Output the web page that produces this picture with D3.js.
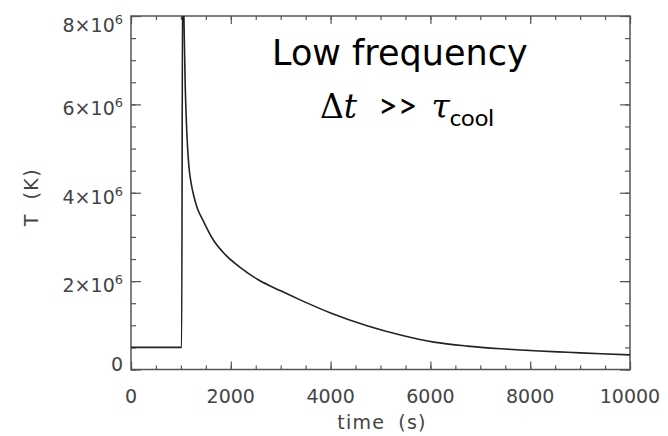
<!DOCTYPE html>
<html>
<head>
<meta charset="utf-8">
<script src="https://cdn.jsdelivr.net/npm/d3@7/dist/d3.min.js"></script>
<style>
    body { margin: 0; background: #fff; }
    text { font-family: "DejaVu Sans", sans-serif; }
</style>
</head>
<body>
<svg id="chart" width="668" height="436"></svg>
<script>
// temperature curve (time in s, T in K)
var time_s = [0, 1015, 1035, 1060, 1085, 1110, 1135, 1160, 1200, 1260, 1320, 1450, 1650, 1890,
              2200, 2550, 3000, 3400, 4000, 4730, 5400, 6070, 6740, 7410, 8080, 8750, 9420, 10000];
var temp_K = [0.5e6, 0.5e6, 9.0e6, 8.0e6, 6.5e6, 5.6e6, 5.0e6, 4.6e6, 4.25e6, 3.92e6, 3.68e6, 3.36e6, 2.93e6, 2.6e6,
              2.3e6, 2.03e6, 1.78e6, 1.57e6, 1.28e6, 0.99e6, 0.78e6, 0.62e6, 0.53e6, 0.47e6, 0.425e6, 0.39e6, 0.355e6, 0.33e6];

// axis ticks
var xTicks = [0, 2000, 4000, 6000, 8000, 10000];
var xTickLabels = ['0', '2000', '4000', '6000', '8000', '10000'];
var yTicks = [0, 2e6, 4e6, 6e6, 8e6];
var yTickMantissa = ['0', '2', '4', '6', '8'];

var svg = d3.select('#chart');

// plot box (note: "top" is a reserved window name, so use plot_*)
var plot_left = 131, plot_right = 630, plot_top = 16, plot_bottom = 369.5;

var x = d3.scaleLinear().domain([0, 10000]).range([plot_left, plot_right]);
var y = d3.scaleLinear().domain([0, 8e6]).range([plot_bottom, plot_top]);

var axisColor = '#555';
var textColor = '#444';

// minor / major ticks on all four sides (inward)
var xMinor = d3.range(0, 10001, 500);
var yMinor = d3.range(0, 8e6 + 1, 5e5);

var drawTicks = function(axis, pos) {
    var g = svg.append('g').attr('transform', pos).call(axis);
    g.select('.domain').remove();
    g.selectAll('text').remove();
    g.selectAll('line').attr('stroke', axisColor).attr('stroke-width', 1.2);
};

drawTicks(d3.axisBottom(x).tickValues(xMinor).tickSize(-4), 'translate(0,' + plot_bottom + ')');
drawTicks(d3.axisBottom(x).tickValues(xTicks).tickSize(-8), 'translate(0,' + plot_bottom + ')');
drawTicks(d3.axisTop(x).tickValues(xMinor).tickSize(-4), 'translate(0,' + plot_top + ')');
drawTicks(d3.axisTop(x).tickValues(xTicks).tickSize(-8), 'translate(0,' + plot_top + ')');
drawTicks(d3.axisLeft(y).tickValues(yMinor).tickSize(-5), 'translate(' + plot_left + ',0)');
drawTicks(d3.axisLeft(y).tickValues(yTicks).tickSize(-10), 'translate(' + plot_left + ',0)');
drawTicks(d3.axisRight(y).tickValues(yMinor).tickSize(-5), 'translate(' + plot_right + ',0)');
drawTicks(d3.axisRight(y).tickValues(yTicks).tickSize(-10), 'translate(' + plot_right + ',0)');

// frame
svg.append('rect')
    .attr('x', plot_left).attr('y', plot_top)
    .attr('width', plot_right - plot_left).attr('height', plot_bottom - plot_top)
    .attr('fill', 'none').attr('stroke', axisColor).attr('stroke-width', 1.5);

// x tick labels
svg.selectAll('.xlab').data(xTicks).enter().append('text')
    .attr('class', 'xlab')
    .attr('x', function(d) { return x(d); })
    .attr('y', 403)
    .attr('text-anchor', 'middle')
    .attr('font-size', 19)
    .attr('fill', textColor)
    .text(function(d, i) { return xTickLabels[i]; });

// y tick labels, N×10^6 style
yTicks.forEach(function(d, i) {
    var t = svg.append('text')
        .attr('x', 123)
        .attr('text-anchor', 'end')
        .attr('font-size', 19)
        .attr('fill', textColor);
    if (d == 0) {
        t.attr('y', y(d) + 1).text(yTickMantissa[i]);
    } else {
        t.attr('y', Math.max(y(d) + 11, 32));
        t.append('tspan').text(yTickMantissa[i] + '\u00d710');
        t.append('tspan').attr('dy', -8).attr('font-size', 13).text('6');
    }
});

// axis titles (wide IDL-style spacing)
svg.append('text')
    .attr('x', 382).attr('y', 429)
    .attr('text-anchor', 'middle')
    .attr('font-size', 19)
    .attr('letter-spacing', 1.2)
    .attr('word-spacing', 6)
    .attr('fill', textColor)
    .text('time (s)');

svg.append('text')
    .attr('transform', 'translate(38,197) rotate(-90)')
    .attr('text-anchor', 'middle')
    .attr('font-size', 19)
    .attr('letter-spacing', 1.5)
    .attr('word-spacing', 6)
    .attr('fill', textColor)
    .text('T (K)');

// curve
svg.append('clipPath').attr('id', 'plotclip')
    .append('rect').attr('x', plot_left).attr('y', plot_top)
    .attr('width', plot_right - plot_left).attr('height', plot_bottom - plot_top);

var line = d3.line()
    .x(function(d, i) { return x(time_s[i]); })
    .y(function(d) { return y(d); })
    .curve(d3.curveMonotoneX);

svg.append('path')
    .datum(temp_K)
    .attr('d', line)
    .attr('clip-path', 'url(#plotclip)')
    .attr('fill', 'none')
    .attr('stroke', '#222')
    .attr('stroke-width', 1.6);

// annotation
svg.append('text')
    .attr('x', 272).attr('y', 65)
    .attr('font-family', 'Lato, sans-serif')
    .attr('font-size', 35)
    .attr('fill', '#000')
    .text('Low frequency');

var note = svg.append('text')
    .attr('x', 320).attr('y', 118)
    .attr('fill', '#000');
note.append('tspan').attr('font-family', '"DejaVu Serif", serif').attr('font-size', 33).text('\u0394');
note.append('tspan').attr('font-family', '"DejaVu Serif", serif').attr('font-style', 'italic').attr('font-size', 33).text('t');
note.append('tspan').attr('font-family', 'Lato, sans-serif').attr('font-size', 34).attr('dx', 21).text('>>');
note.append('tspan').attr('font-family', '"DejaVu Serif", serif').attr('font-style', 'italic').attr('font-size', 33).attr('dx', 14).text('\u03c4');
note.append('tspan').attr('font-family', 'Lato, sans-serif').attr('font-size', 24).attr('dy', 8).text('cool');
</script>
</body>
</html>
